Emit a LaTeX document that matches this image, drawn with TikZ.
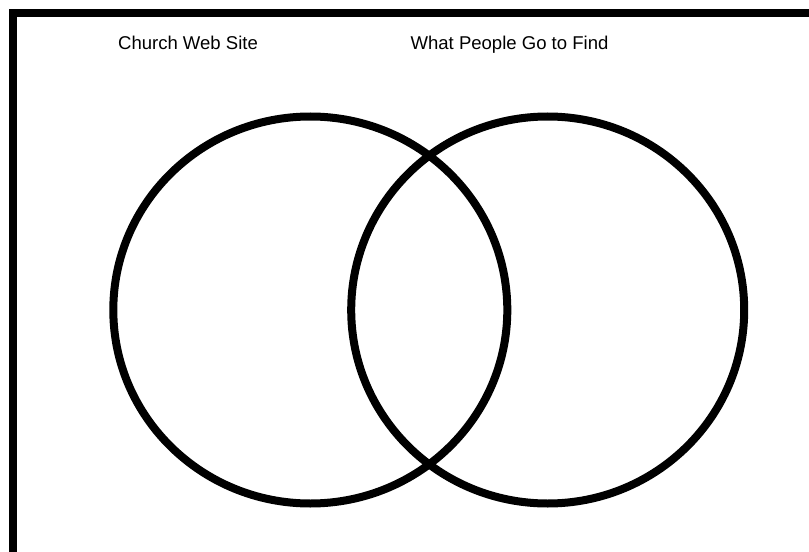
\documentclass[tikz,border=0pt]{standalone}
\usepackage{fontspec}
\setmainfont{Liberation Sans}

\begin{document}
\begin{tikzpicture}[
  x=0.75pt, y=-0.75pt,
  font=\fontsize{13.9pt}{16pt}\selectfont,
  frame/.style={draw=black, line width=6pt},
  set/.style={draw=black, line width=6pt},
  title/.style={inner sep=0pt, anchor=base},
]
\useasboundingbox (0,0) rectangle (809,552);

% ---- frame (top and left edges only) ----
\draw[frame] (13.3,552) -- (13.3,13.3) -- (809,13.3);

% ---- the two sets ----
\draw[set] (310.3,310) ellipse (197 and 193.5);
\draw[set] (547.7,310) ellipse (196.5 and 193.5);

% ---- labels ----
\node[title] (site) at (188,49.3) {Church Web Site};
\node[title] (find) at (509.5,49.3) {What People Go to Find};

\end{tikzpicture}
\end{document}
